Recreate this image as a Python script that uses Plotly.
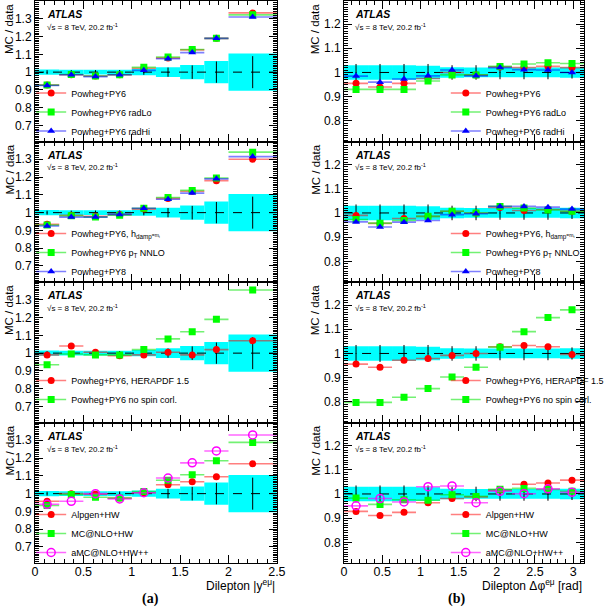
import plotly.graph_objects as go

# ---------------- data ----------------
y_edges = [0.0, 0.25, 0.5, 0.75, 1.0, 1.25, 1.5, 1.75, 2.0, 2.5]
phi_edges = [0.0, 0.314, 0.628, 0.942, 1.257, 1.571, 1.885, 2.199, 2.513, 2.827, 3.142]

# data uncertainty (band = total, stat = black bars)
y_band = [0.015, 0.013, 0.013, 0.014, 0.017, 0.028, 0.040, 0.062, 0.105]
y_stat = [0.011, 0.011, 0.012, 0.012, 0.015, 0.026, 0.038, 0.060, 0.090]
phi_band = [0.030, 0.030, 0.030, 0.028, 0.022, 0.020, 0.020, 0.020, 0.020, 0.022]
phi_stat = [0.035, 0.035, 0.035, 0.035, 0.030, 0.030, 0.028, 0.028, 0.028, 0.025]

# |y(e mu)| panels
y_pwpy6 = [0.928, 0.985, 0.978, 0.985, 1.022, 1.080, 1.125, 1.190, 1.333]
y_radlo = [0.927, 0.987, 0.978, 0.985, 1.027, 1.085, 1.127, 1.190, 1.322]
y_radhi = [0.925, 0.985, 0.975, 0.985, 1.010, 1.075, 1.110, 1.190, 1.310]

y_hdamp = [0.935, 0.985, 0.980, 0.990, 1.020, 1.080, 1.120, 1.180, 1.300]
y_ptnnlo = [0.930, 0.982, 0.975, 0.985, 1.025, 1.085, 1.125, 1.195, 1.340]
y_py8 = [0.925, 0.975, 0.975, 0.990, 1.025, 1.075, 1.110, 1.190, 1.315]

y_hera = [0.990, 1.040, 1.005, 0.985, 0.990, 1.005, 0.990, 1.020, 1.070]
y_nospin = [0.935, 0.995, 0.990, 0.990, 1.020, 1.080, 1.120, 1.190, 1.355]

y_alpgen = [0.957, 1.000, 0.997, 0.975, 1.005, 1.050, 1.067, 1.095, 1.168]
y_mcnlo = [0.933, 0.995, 0.980, 0.975, 1.012, 1.075, 1.106, 1.185, 1.288]
y_amcnlo = [0.940, 0.957, 1.000, 0.970, 1.005, 1.088, 1.173, 1.240, 1.330]

# delta phi(e mu) panels
p_pwpy6 = [0.955, 0.940, 0.955, 0.975, 1.000, 0.990, 1.023, 1.020, 1.025, 1.020]
p_radlo = [0.930, 0.930, 0.930, 0.965, 0.990, 0.990, 1.025, 1.035, 1.040, 1.037]
p_radhi = [0.985, 0.960, 0.973, 0.986, 1.010, 0.986, 1.020, 1.011, 1.010, 1.000]

p_hdamp = [0.990, 0.957, 0.977, 0.986, 1.007, 1.000, 1.023, 1.010, 1.014, 1.007]
p_ptnnlo = [0.973, 0.958, 0.969, 0.986, 1.007, 1.000, 1.027, 1.020, 1.012, 1.007]
p_py8 = [0.963, 0.942, 0.962, 0.969, 0.993, 0.997, 1.027, 1.027, 1.024, 1.016]

p_hera = [0.956, 0.943, 0.972, 0.979, 0.992, 1.000, 1.028, 1.033, 1.028, 0.996]
p_nospin = [0.798, 0.798, 0.819, 0.855, 0.903, 0.943, 1.026, 1.090, 1.148, 1.180]

p_alpgen = [0.928, 0.911, 0.924, 0.964, 0.981, 0.988, 1.016, 1.040, 1.045, 1.057]
p_mcnlo = [0.983, 0.957, 0.976, 0.974, 0.997, 0.990, 1.019, 1.023, 1.019, 1.011]
p_amcnlo = [0.951, 0.981, 0.967, 1.030, 1.033, 0.964, 1.011, 1.001, 1.021, 1.007]

# ---------------- styles ----------------
RED = dict(color="#ff0000", symbol="circle", line="rgba(255,0,0,0.5)")
GRN = dict(color="#00ff00", symbol="square", line="rgba(0,230,0,0.55)")
BLU = dict(color="#0000ff", symbol="triangle-up", line="rgba(0,0,255,0.5)")
MAG = dict(color="#ff00ff", symbol="circle-open", line="rgba(255,0,255,0.6)")

hdamp_lbl = "Powheg+PY6, h<sub>damp</sub><span style='font-size:5px'>=m<sub>t</sub></span>"
panels_left = [
    [("Powheg+PY6", y_pwpy6, RED), ("Powheg+PY6 radLo", y_radlo, GRN), ("Powheg+PY6 radHi", y_radhi, BLU)],
    [(hdamp_lbl, y_hdamp, RED), ("Powheg+PY6 p<sub>T</sub> NNLO", y_ptnnlo, GRN), ("Powheg+PY8", y_py8, BLU)],
    [("Powheg+PY6, HERAPDF 1.5", y_hera, RED), ("Powheg+PY6 no spin corl.", y_nospin, GRN)],
    [("Alpgen+HW", y_alpgen, RED), ("MC@NLO+HW", y_mcnlo, GRN), ("aMC@NLO+HW++", y_amcnlo, MAG)],
]
panels_right = [
    [("Powheg+PY6", p_pwpy6, RED), ("Powheg+PY6 radLo", p_radlo, GRN), ("Powheg+PY6 radHi", p_radhi, BLU)],
    [(hdamp_lbl, p_hdamp, RED), ("Powheg+PY6 p<sub>T</sub> NNLO", p_ptnnlo, GRN), ("Powheg+PY8", p_py8, BLU)],
    [("Powheg+PY6, HERAPDF 1.5", p_hera, RED), ("Powheg+PY6 no spin corl.", p_nospin, GRN)],
    [("Alpgen+HW", p_alpgen, RED), ("MC@NLO+HW", p_mcnlo, GRN), ("aMC@NLO+HW++", p_amcnlo, MAG)],
]

# ---------------- geometry ----------------
W, H = 610, 607
ML, MR, MT, MB = 35, 3, 1, 44
PW = W - ML - MR
PH = H - MT - MB
FONT = "Liberation Sans, Arial, Helvetica, sans-serif"


def px_x(px):
    return (px - ML) / PW


def px_y(py):
    return 1 - (py - MT) / PH


col_dom = [[0.0, px_x(287)], [px_x(357), 1.0]]
col_range = [[0.0, 2.5], [0.0, 3.1416]]
col_yrange = [[0.61, 1.40], [0.715, 1.295]]
col_yticks = [[0.7, 0.8, 0.9, 1.0, 1.1, 1.2, 1.3], [0.8, 0.9, 1.0, 1.1, 1.2]]
col_edges = [y_edges, phi_edges]
col_band = [y_band, phi_band]
col_stat = [y_stat, phi_stat]
col_panels = [panels_left, panels_right]
panel_h = PH / 4.0

fig = go.Figure()
annotations = []
layout = dict(
    width=W, height=H,
    margin=dict(l=ML, r=MR, t=MT, b=MB, pad=0),
    paper_bgcolor="white", plot_bgcolor="white",
    font=dict(family=FONT, size=12, color="black"),
    showlegend=True,
)

for c in range(2):
    edges = col_edges[c]
    centers = [(edges[i] + edges[i + 1]) / 2 for i in range(len(edges) - 1)]
    halfw = [(edges[i + 1] - edges[i]) / 2 for i in range(len(edges) - 1)]
    widths = [2 * h for h in halfw]
    band = col_band[c]
    stat = col_stat[c]
    for r in range(4):
        k = r * 2 + c + 1
        xa = "x" if k == 1 else f"x{k}"
        ya = "y" if k == 1 else f"y{k}"
        lg = "legend" if k == 1 else f"legend{k}"
        # data uncertainty band
        fig.add_trace(go.Bar(
            x=centers, y=[2 * b for b in band], base=[1 - b for b in band], width=widths,
            marker=dict(color="#00ffff", line=dict(width=0)), xaxis=xa, yaxis=ya,
            showlegend=False, hoverinfo="skip"))
        # dashed unity line
        fig.add_trace(go.Scatter(
            x=col_range[c], y=[1, 1], mode="lines",
            line=dict(color="black", width=1, dash="dash"),
            xaxis=xa, yaxis=ya, showlegend=False, hoverinfo="skip"))
        # data stat error bars
        fig.add_trace(go.Scatter(
            x=centers, y=[1.0] * len(centers), mode="markers",
            marker=dict(size=1, color="black"),
            error_y=dict(type="data", array=stat, color="black", thickness=1, width=0),
            xaxis=xa, yaxis=ya, showlegend=False, hoverinfo="skip"))
        # MC predictions
        for name, vals, st in col_panels[c][r]:
            mk = dict(size=7, color=st["color"], symbol=st["symbol"])
            if st["symbol"] == "circle-open":
                mk["line"] = dict(width=1.5, color=st["color"])
                mk["size"] = 8
            fig.add_trace(go.Scatter(
                x=centers, y=vals, mode="markers", marker=mk,
                error_x=dict(type="data", array=halfw, color=st["line"], thickness=1.6, width=0),
                xaxis=xa, yaxis=ya, showlegend=False, name=name))
            fig.add_trace(go.Scatter(
                x=[None], y=[None], mode="lines+markers", marker=mk,
                line=dict(color=st["line"], width=1.6), name=name,
                xaxis=xa, yaxis=ya, legend=lg, showlegend=True))

        top_px = MT + r * panel_h
        ydom = [1 - (r + 1) / 4.0, 1 - r / 4.0]
        xname = "xaxis" if k == 1 else f"xaxis{k}"
        yname = "yaxis" if k == 1 else f"yaxis{k}"
        layout[xname] = dict(
            domain=col_dom[c], range=col_range[c], anchor=ya,
            tickmode="linear", tick0=0, dtick=0.5,
            ticks="inside", ticklen=8, tickwidth=1, tickcolor="black",
            minor=dict(tickmode="linear", tick0=0, dtick=0.1, ticks="inside", ticklen=4, tickcolor="black"),
            showline=True, linecolor="black", linewidth=1, mirror="allticks",
            showgrid=False, zeroline=False, showticklabels=(r == 3),
            ticklabelstandoff=-3,
            tickfont=dict(size=12.5, family=FONT, color="black"),
        )
        layout[yname] = dict(
            domain=ydom, range=col_yrange[c], anchor=xa,
            tickmode="array", tickvals=col_yticks[c],
            ticktext=[("%g" % v) for v in col_yticks[c]],
            ticks="inside", ticklen=8, tickwidth=1, tickcolor="black",
            minor=dict(tickmode="linear", tick0=0, dtick=0.01, ticks="inside", ticklen=4, tickcolor="black"),
            showline=True, linecolor="black", linewidth=1, mirror="allticks",
            showgrid=False, zeroline=False,
            tickfont=dict(size=12, family=FONT, color="black"),
        )
        # legend
        n = len(col_panels[c][r])
        mid_px = top_px + (111 if n == 3 else 108)
        leg_left = 31 if c == 0 else 463
        layout[lg] = dict(
            x=px_x(leg_left), y=px_y(mid_px), xanchor="left", yanchor="middle",
            bgcolor="rgba(0,0,0,0)", borderwidth=0,
            font=dict(size=9, family=FONT, color="black"),
            itemwidth=30, tracegroupgap=0,
        )
        # ATLAS labels
        ax_px = 45 if c == 0 else 366
        annotations.append(dict(
            xref="paper", yref="paper", x=px_x(ax_px), y=px_y(top_px + 13),
            xanchor="left", yanchor="middle", showarrow=False,
            text="<b><i>ATLAS</i></b>", font=dict(size=10.5, family=FONT, color="black")))
        annotations.append(dict(
            xref="paper", yref="paper", x=px_x(ax_px), y=px_y(top_px + 26),
            xanchor="left", yanchor="middle", showarrow=False,
            text="√s = 8 TeV, 20.2 fb<sup>-1</sup>", font=dict(size=8, family=FONT, color="black")))
        # y title
        yt_px = 8 if c == 0 else 327
        annotations.append(dict(
            xref="paper", yref="paper", x=px_x(yt_px), y=px_y(top_px + 1),
            xanchor="center", yanchor="top", showarrow=False, textangle=-90,
            text="MC / data", font=dict(size=11.5, family=FONT, color="black")))

# x titles
annotations.append(dict(
    xref="paper", yref="paper", x=px_x(287), y=px_y(585), xanchor="right", yanchor="middle",
    showarrow=False, text="Dilepton |y<sup>eμ</sup>|", font=dict(size=12, family=FONT, color="black")))
annotations.append(dict(
    xref="paper", yref="paper", x=px_x(607), y=px_y(585), xanchor="right", yanchor="middle",
    showarrow=False, text="Dilepton Δφ<sup>eμ</sup> [rad]", font=dict(size=12, family=FONT, color="black")))
annotations.append(dict(
    xref="paper", yref="paper", x=px_x(155), y=px_y(599), xanchor="center", yanchor="middle",
    showarrow=False, text="<b>(a)</b>", font=dict(size=14, family="Liberation Serif, Times New Roman, serif", color="black")))
annotations.append(dict(
    xref="paper", yref="paper", x=px_x(474), y=px_y(599), xanchor="center", yanchor="middle",
    showarrow=False, text="<b>(b)</b>", font=dict(size=14, family="Liberation Serif, Times New Roman, serif", color="black")))

layout["annotations"] = annotations
layout["barmode"] = "overlay"
fig.update_layout(**layout)
fig.write_html("out.html", config={"displayModeBar": False},
               post_script="document.body.style.margin='0px';")
